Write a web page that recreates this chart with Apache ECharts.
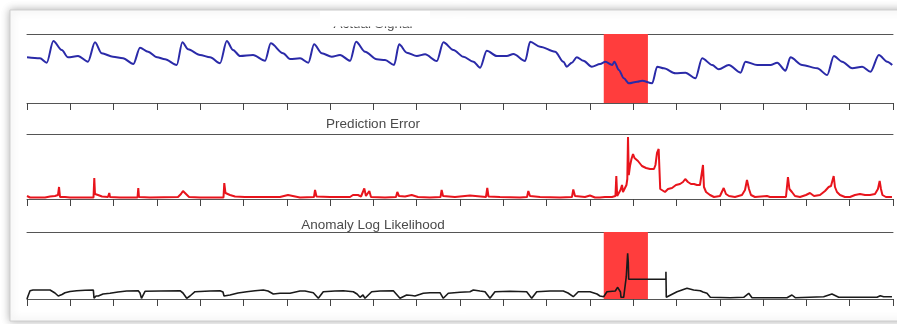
<!DOCTYPE html>
<html lang="en">
<head>
    <meta charset="UTF-8">
    <title>Anomaly detection</title>
    <style>
        html, body { margin: 0; padding: 0; background: #fff; }
    </style>
</head>
<body>
<div id="main" style="width: 897px;height:324px;"></div>

<script src="https://cdn.jsdelivr.net/npm/echarts@6/dist/echarts.min.js"></script>
<script>
    // panel titles
    var titles = ['Actual Signal', 'Prediction Error', 'Anomaly Log Likelihood'];

    // time steps (0..1000), tick every 50
    var xMax = 1000;
    var tickStep = 50;

    // highlighted anomaly window
    var anomalyWindow = [666, 717];

    // actual signal
    var sigX = [0,15,22.8,30.4,40.1,47.4,58.9,70.4,78.5,86.3,
        99.3,110.9,122.8,130.5,139.8,150.2,159.4,172.9,179.4,186,
        199.8,211.4,222.9,230.7,237.9,246,261,274.9,281.5,295.7,
        303.8,315.3,324.9,331.5,340.4,351.9,361.5,373.1,380,390.4,
        403.9,413.5,423.9,429.7,438.6,450.1,459.7,473.2,480.8,492.4,
        503.9,515.5,523.2,530.9,542.5,554,561.7,575.2,581,592.5,
        609.8,619.4,623.3,629.1,634.9,642.5,652.2,661.8,667.9,675.7,
        678.3,683.4,689.2,695,704.6,710.3,721.9,727.7,735.4,748.8,
        760.4,771.9,779.6,791.2,798.9,810.4,823.9,829.6,843.2,858.5,
        866.3,875.8,881.6,895.1,912.5,924,931.7,941.3,952.9,964.4,
        974,983.7,993.3,999.1];
    var sigY = [45.7,44.7,40.3,62,53,45.7,47,41.3,60.7,49.7,
        46.3,44.7,39,55.3,51.3,45.7,43.7,38,60.7,53.7,
        48,45.7,39.7,62,53,47,48,42.3,59.7,49.7,
        44,44.7,40.3,58.7,49.7,46.3,48,42.3,61.3,51.3,
        43.7,43,38,58.7,50.3,47,48.7,42,60.7,53,
        46.3,41.3,35.3,52.3,47,47,49,42,61.3,56.3,
        51.3,41.3,36.3,40.3,45.7,42.3,36.3,39,41.3,38,
        41.3,33,24.7,19.7,21.3,22.3,19.7,36.3,34.7,29.7,
        30.3,24.7,44.7,38,33.7,38,30.3,41.3,38,38,
        40.3,32.3,45.7,38,34.7,28,47,41.3,34.7,36.3,
        31.3,48,41.3,38];

    // prediction error
    var errX = [0,3.5,20.8,26.6,32.3,35.8,37,38.1,43.9,49.6,
        61.2,76.8,77.7,78.5,82,86.6,93.5,95,95.8,107.4,
        127.6,128.5,129.3,142,174.4,177.8,180.1,183.6,187.1,199.8,
        226.9,227.8,229.2,234.4,240.2,251.7,278.3,280.6,282.9,292.1,
        301.4,303.7,315.2,331.4,332.6,334.3,349.9,373,376.4,382.2,
        385.7,389.5,391.4,395.3,397.2,413.4,426.1,427.6,429.5,436.5,
        444.2,451.5,465.3,477.5,478.8,480.4,494.2,511.5,513.8,530,
        531.5,532.9,546.2,569.3,577.4,578.9,580.8,592.4,615.5,629.3,
        630.8,632.8,644.3,650.1,655.9,661.6,667.4,675.5,679.5,680.5,
        681.5,683.6,685.3,687.1,688.2,690.5,692.2,693.2,694,694.9,
        696.3,698,699.8,701.5,703.2,705.5,707.8,710.1,712.4,714.8,
        717.1,719.4,721.7,724,725.7,727.5,729.4,730.4,731.2,733.2,
        736.7,740.2,744.8,749.4,754,757.5,760.1,763.2,766.7,770.2,
        773.6,777.1,779.4,780.6,781.7,784.1,788.7,793.3,800.2,804.5,
        807.1,810.6,817.5,825.6,829.1,831.4,833.7,836,840.6,854.5,
        857.9,876.4,878.7,880.4,883.3,886.8,892.6,899.5,904.1,908.8,
        915.7,921.5,925.7,928.4,931.5,933,935.3,938.8,944.5,950.3,
        956.1,961.9,967.7,973.4,979.2,982.6,984.6,986.1,987.8,991.8,
        998.8];
    var errY = [3,1.5,1.5,2.5,3,4,12,2,2,1.5,
        1.5,1.5,21,5,4,2.5,2,6,2,1.5,
        1.5,11,2,1.5,2,5,8,5,2,1.5,
        1.5,16,6,4,2.5,2,2,4,2,2,
        4,2,1.5,2,9,2.5,2,2,4,4,
        2.5,10.5,3,8,2,1.5,2,7,3,2.5,
        4,2,1.5,2,9,3,2,3.5,1.5,2,
        11,2.5,2,1.5,2,8,3,2,1.5,2,
        9.5,3,2,3.5,1.5,1.5,2,2,3,23,
        3,4,9,14,7,11,14,20,62,24,
        33,40,45,41,43,38,37,33,34,31,
        32,30,31,30,34,46,50,48,10,8,
        7,10,11,14,15,17,20,17,15,15,
        14,14,15,34,12,7,4,2,3,11,
        5,3,2,4,9,19,10,4,2,3,
        2,2,22,10,7,3,2,4,6,3,
        4,8,12,13,23,12,7,4,2,2,
        4,5,4,4,5,10,18,10,4,2,
        2];

    // anomaly log likelihood
    var llX = [0,1.2,3.5,6.9,26.6,32.3,36.1,40.4,43.9,49.7,
        57.4,67,76.6,77.4,79.7,82.3,87.8,95.8,105.1,115.1,
        128.5,130.5,132.2,133.9,136.3,153.6,176.7,180.1,184.4,188.2,
        194,211.3,222.9,226.3,227.5,228.6,234.4,243.6,253.7,263.3,
        272.9,278.3,284.4,292.1,303.7,315.2,321,330.6,336.4,342.1,
        355.6,365.2,376.8,381.1,384.5,388,390.3,398,407.6,423,
        430.7,438.4,444.6,448,457.6,465.3,476.9,480.7,486.5,500,
        511.5,515.4,523.1,528.9,534.6,540.4,557.7,577,582.8,588.6,
        603.9,619.3,624.7,630.8,636.6,650.1,658.2,661.6,665.9,669.7,
        679.3,682.1,684.4,685.3,685.9,689,692,693.6,694.3,694.8,
        737.8,737.8,738.2,741,750.6,762.1,769.8,777.5,780.6,785.2,
        789,812.1,827.6,833.4,837.2,877.6,883.3,887.1,919.9,929.5,
        937.3,981.5,985.3,989.2,998.8];
    var llY = [0,3,8.3,9,9,6,3,4.5,6.3,7.5,
        8.3,8.7,9,0.7,3,3,5,5.7,7,8,
        8.3,6,0.7,1,7.7,8,8.3,6,0.7,3,
        7.3,8,8.3,7,3,5,4,6,7.3,8.3,
        9,8,5,5.7,5.7,8,8,6.3,0.7,7.3,
        8,8.3,7.3,5,1.7,4,0.7,7.3,8,8.3,
        0.7,4,3.5,3,5.7,6.3,6.3,0.7,5.7,6.7,
        7.3,9,8,7.3,0.7,7.3,7.7,7.3,0.7,7.3,
        8,8,6,2.3,7.3,7.3,5,3,2.3,7.3,
        8,11.7,11.7,7,1.7,1.7,22.3,45.7,37,19.7,
        19.7,27.3,1.7,3,7.3,10.7,9,8.3,7,5.7,
        1.7,1.3,1.7,5.7,1.3,1.3,4,1.3,2.3,5,
        1.7,1.7,3.3,2.3,2.3];

    function pairs(xs, ys) {
        return xs.map(function (x, i) { return [x, ys[i]]; });
    }

    var myChart = echarts.init(document.getElementById('main'));

    var grids = [
        {left: 27, right: 4, top: 34, height: 69},
        {left: 27, right: 4, top: 134, height: 65},
        {left: 27, right: 4, top: 232, height: 67}
    ];
    var yMax = [69, 65, 67];
    var titleY = [24, 124, 225];

    var xAxes = [], yAxes = [];
    for (var i = 0; i < 3; i++) {
        // bottom axis with ticks
        xAxes.push({
            gridIndex: i, type: 'value', min: 0, max: xMax, interval: tickStep,
            axisLine: {onZero: false, lineStyle: {color: '#555', width: 1}},
            axisTick: {show: true, length: 7, lineStyle: {color: '#444', width: 1}},
            axisLabel: {show: false},
            splitLine: {show: false}
        });
        // plain top border
        xAxes.push({
            gridIndex: i, type: 'value', position: 'top', min: 0, max: xMax,
            axisLine: {onZero: false, lineStyle: {color: '#555', width: 1}},
            axisTick: {show: false},
            axisLabel: {show: false},
            splitLine: {show: false}
        });
        yAxes.push({gridIndex: i, type: 'value', min: 0, max: yMax[i], show: false});
    }

    var areaMark = {
        silent: true,
        itemStyle: {color: '#ff3d3d', opacity: 1},
        data: [[{xAxis: anomalyWindow[0]}, {xAxis: anomalyWindow[1]}]]
    };

    var graphics = [{
        type: 'rect', z: -10,
        shape: {x: 10, y: 10, width: 900, height: 311},
        style: {fill: '#fff', stroke: '#cfcfcf', lineWidth: 1,
            shadowBlur: 8, shadowColor: 'rgba(0,0,0,0.3)'}
    }];
    titles.forEach(function (t, i) {
        graphics.push({
            type: 'text', z: 50,
            style: {text: t, x: 373, y: titleY[i], align: 'center', verticalAlign: 'middle',
                font: '13.5px "Liberation Sans", Arial, sans-serif', fill: '#4a4a4a'}
        });
    });
    // top of the first title is cut off in the original
    graphics.push({
        type: 'rect', z: 60,
        shape: {x: 320, y: 11, width: 110, height: 15.5},
        style: {fill: '#fff'}
    });

    var option = {
        animation: false,
        backgroundColor: '#fff',
        grid: grids,
        xAxis: xAxes,
        yAxis: yAxes,
        graphic: graphics,
        series: [{
            type: 'line', xAxisIndex: 0, yAxisIndex: 0,
            data: pairs(sigX, sigY),
            showSymbol: false,
            smooth: 0.3,
            smoothMonotone: 'x',
            lineStyle: {color: '#2a2aa8', width: 2},
            markArea: areaMark
        }, {
            type: 'line', xAxisIndex: 2, yAxisIndex: 1,
            data: pairs(errX, errY),
            showSymbol: false,
            lineStyle: {color: '#e8141c', width: 2}
        }, {
            type: 'line', xAxisIndex: 4, yAxisIndex: 2,
            data: pairs(llX, llY),
            showSymbol: false,
            lineStyle: {color: '#1a1a1a', width: 1.6},
            markArea: areaMark
        }]
    };

    myChart.setOption(option);
</script>
</body>
</html>
